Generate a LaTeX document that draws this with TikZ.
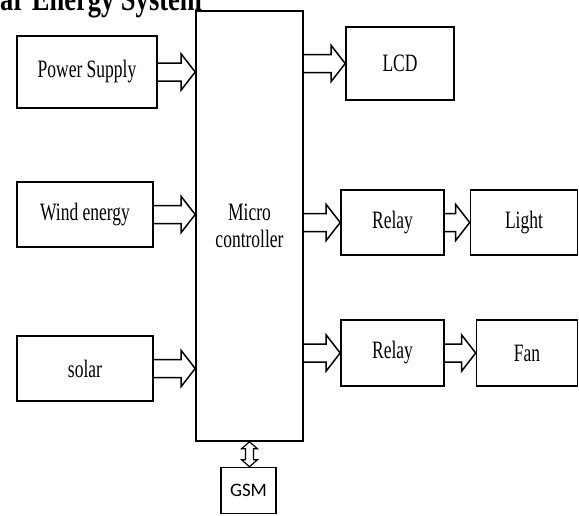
\documentclass[tikz,border=0pt]{standalone}
\usepackage{fontspec}
\setmainfont{Liberation Serif}
\newfontfamily\gsmfont{Carlito}
\usetikzlibrary{calc}

\newcommand{\sq}[1]{\scalebox{0.70}[1]{#1}}
% hollow block arrow, #1 start, #2 tip (same height)
\newcommand{\fatarrow}[2]{%
  \draw[fatline] let \p1=(#1), \p2=(#2) in
    ({\x1},{\y1+9pt}) -- ({\x2-14pt},{\y1+9pt}) -- ({\x2-14pt},{\y1+18pt}) -- ({\x2},{\y1})
    -- ({\x2-14pt},{\y1-18pt}) -- ({\x2-14pt},{\y1-9pt}) -- ({\x1},{\y1-9pt});}

\tikzset{
  block/.style={draw, line width=1.6pt, inner sep=0pt, font=\fontsize{25}{27}\selectfont},
  fatline/.style={line width=1.5pt, line join=miter}
}

\begin{document}
\begin{tikzpicture}[x=1pt, y=-1pt]
    \useasboundingbox (0,0) rectangle (579,515);
    \clip (0,0) rectangle (579,515);
    % Title
    \node[anchor=base west, inner sep=0pt, font=\bfseries\fontsize{34}{34}\selectfont] (title) at (0,10) {\scalebox{0.78}[1]{ar Energy System}};
    % Controller
    \node[block, minimum width=107, minimum height=430, align=center] (mc) at (249.5,226) {\sq{Micro}\\\sq{controller}};
    % Inputs
    \node[block, minimum width=140, minimum height=72] (ps) at (87,72) {\sq{Power Supply}};
    \node[block, minimum width=136, minimum height=65] (wind) at (85,214.5) {\sq{Wind energy}};
    \node[block, minimum width=136, minimum height=65] (solar) at (85,368.5) {\sq{solar}};
    % Outputs
    \node[block, minimum width=108, minimum height=73] (lcd) at (400,63.5) {\sq{LCD}};
    \node[block, minimum width=103, minimum height=65] (relay1) at (392.5,222.5) {\sq{Relay}};
    \node[block, minimum width=107, minimum height=65] (light) at (524,222.5) {\sq{Light}};
    \node[block, minimum width=103, minimum height=66] (relay2) at (392.5,353) {\sq{Relay}};
    \node[block, minimum width=101, minimum height=66] (fan) at (527,353) {\sq{Fan}};
    \node[block, minimum width=55, minimum height=46, font=\gsmfont\fontsize{19}{22}\selectfont] (gsm) at (248.5,490.5) {GSM};
    % Arrows in
    \foreach \b in {ps,wind,solar} {
        \fatarrow{\b.east}{mc.west |- \b.east}
    }
    % Arrows out
    \foreach \b in {lcd,relay1,relay2} {
        \fatarrow{mc.east |- \b.west}{\b.west}
    }
    \fatarrow{relay1.east}{light.west}
    \fatarrow{relay2.east}{fan.west}
    % GSM link
    \draw[line width=1.2pt] let \p1=(mc.south), \p2=(gsm.north) in
        ({\x1},{\y1}) -- ({\x1+8pt},{\y1-7pt}) -- ({\x1+4pt},{\y1-7pt}) -- ({\x1+4pt},{\y2+7pt})
        -- ({\x1+8pt},{\y2+7pt}) -- ({\x1},{\y2}) -- ({\x1-8pt},{\y2+7pt}) -- ({\x1-4pt},{\y2+7pt})
        -- ({\x1-4pt},{\y1-7pt}) -- ({\x1-8pt},{\y1-7pt}) -- cycle;
\end{tikzpicture}
\end{document}
